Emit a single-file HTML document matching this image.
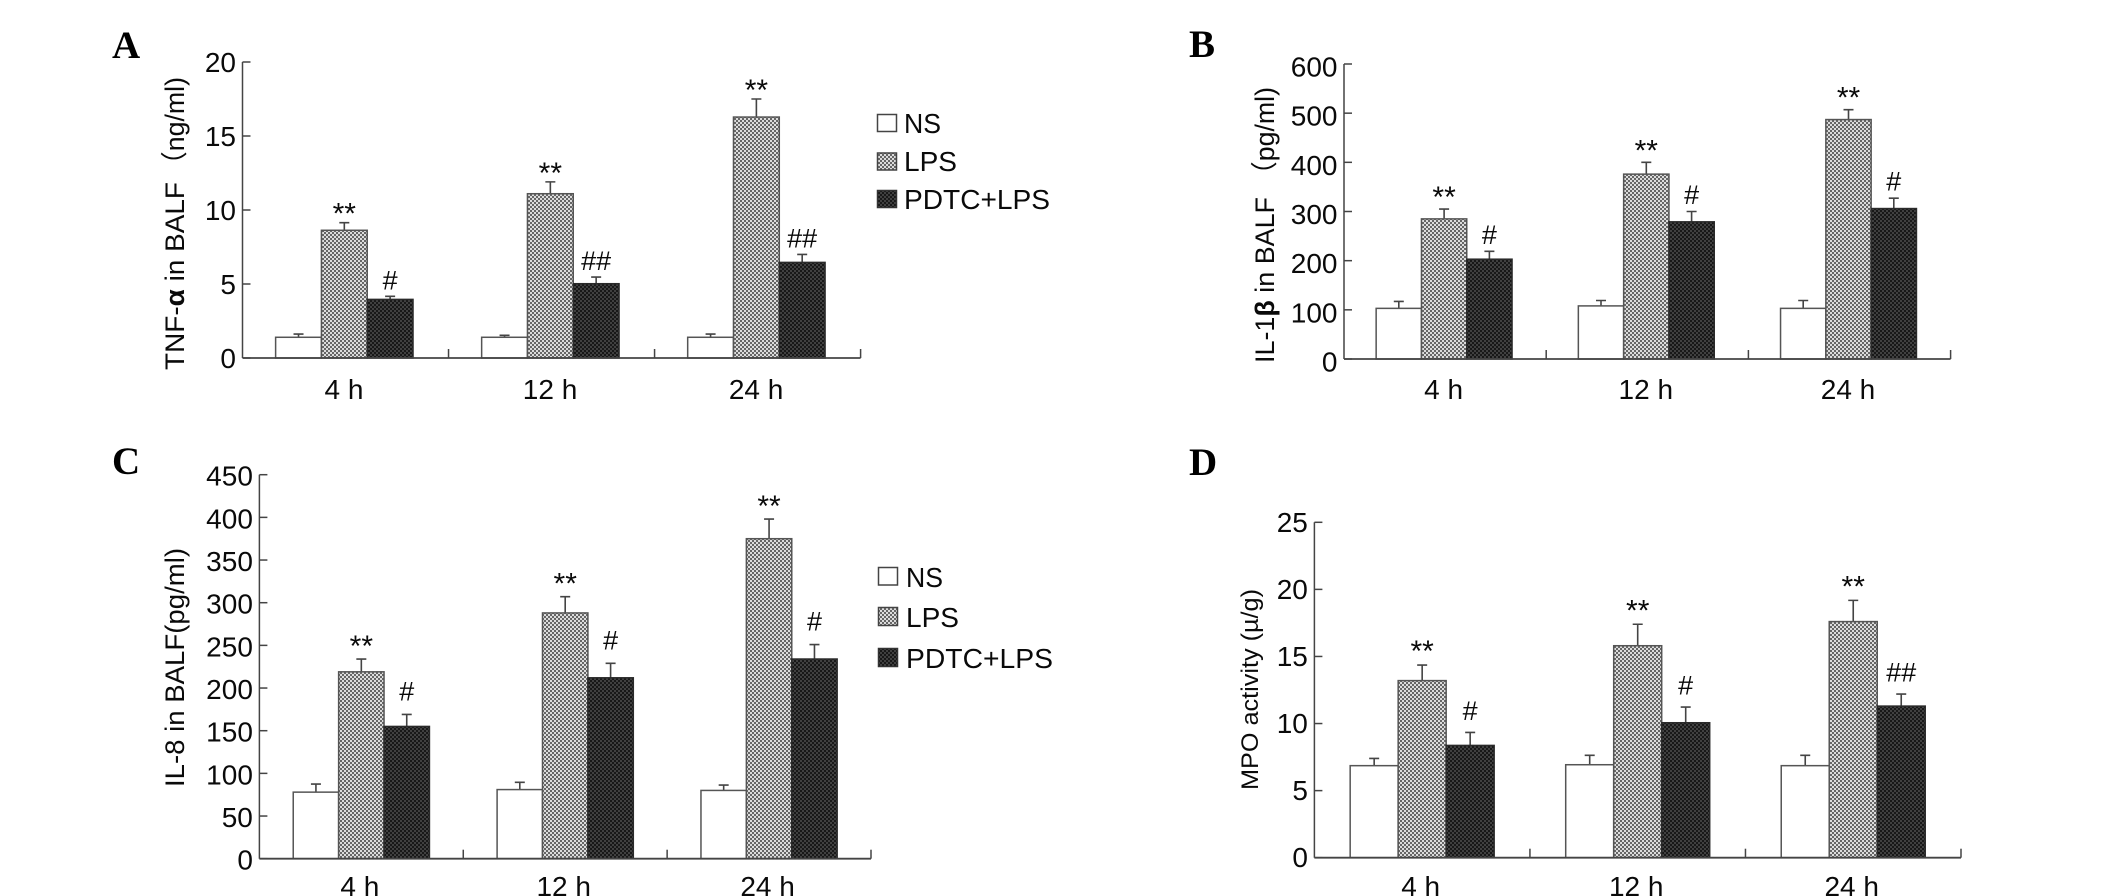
<!DOCTYPE html>
<html>
<head>
<meta charset="utf-8">
<title>Cytokine levels in BALF and MPO activity</title>
<style>
html,body{margin:0;padding:0;background:#fff;width:2126px;height:896px;overflow:hidden}
svg{display:block}
text{font-family:"Liberation Sans","Noto Sans CJK SC",sans-serif;fill:#0a0a0a}
.letter{font-family:"Liberation Serif",serif;font-weight:bold;font-size:39px;fill:#000}
.lbl{font-size:28px}
.title{font-size:27px}
</style>
</head>
<body>
<svg id="figure" xmlns="http://www.w3.org/2000/svg" width="2126" height="896" viewBox="0 0 2126 896">
<defs>
<pattern id="lpsFill" patternUnits="userSpaceOnUse" width="4" height="4">
<rect width="4" height="4" fill="#dcdcdc"/>
<rect x="0" y="0" width="2" height="2" fill="#666"/>
<rect x="2" y="2" width="2" height="2" fill="#666"/>
</pattern>
<pattern id="pdtcFill" patternUnits="userSpaceOnUse" width="4" height="4">
<rect width="4" height="4" fill="#181818"/>
<rect x="0" y="0" width="2" height="2" fill="#404040"/>
<rect x="2" y="2" width="2" height="2" fill="#404040"/>
</pattern>
</defs>

<text class="letter" x="112" y="58">A</text>
<text class="letter" x="1189" y="57">B</text>
<text class="letter" x="112" y="474">C</text>
<text class="letter" x="1189" y="475">D</text>

<g>
<text class="title" transform="translate(184,370) rotate(-90)" textLength="188" lengthAdjust="spacingAndGlyphs">TNF-<tspan font-weight="bold">α</tspan> in BALF</text>
<text class="title" transform="translate(184,178) rotate(-90)" textLength="101" lengthAdjust="spacingAndGlyphs">（ng/ml)</text>
</g>
<g>
<text class="title" transform="translate(1274,363) rotate(-90)" textLength="166" lengthAdjust="spacingAndGlyphs">IL-1<tspan font-weight="bold">β</tspan> in BALF</text>
<text class="title" transform="translate(1274,188) rotate(-90)" textLength="101" lengthAdjust="spacingAndGlyphs">（pg/ml)</text>
</g>
<text class="title" transform="translate(184,787) rotate(-90)" textLength="239" lengthAdjust="spacingAndGlyphs">IL-8 in BALF(pg/ml)</text>
<text class="title" style="font-size:24px" transform="translate(1258,790) rotate(-90)" textLength="201" lengthAdjust="spacingAndGlyphs">MPO activity (µ/g)</text>

<g>
<g><rect x="877.5" y="114.5" width="19" height="17" fill="#fff" stroke="#444" stroke-width="1.5"/><text class="lbl" x="904" y="133" textLength="37" lengthAdjust="spacingAndGlyphs">NS</text></g>
<g><rect x="877.5" y="153" width="19" height="17" fill="url(#lpsFill)" stroke="#444" stroke-width="1.5"/><text class="lbl" x="904" y="171" textLength="53" lengthAdjust="spacingAndGlyphs">LPS</text></g>
<g><rect x="877.5" y="190.5" width="19" height="17" fill="url(#pdtcFill)" stroke="#333" stroke-width="1.5"/><text class="lbl" x="904" y="209" textLength="146" lengthAdjust="spacingAndGlyphs">PDTC+LPS</text></g>
</g>
<g>
<g><rect x="878.5" y="567.5" width="19" height="17.5" fill="#fff" stroke="#444" stroke-width="1.5"/><text class="lbl" x="906" y="587" textLength="37" lengthAdjust="spacingAndGlyphs">NS</text></g>
<g><rect x="878.5" y="607.5" width="19" height="18" fill="url(#lpsFill)" stroke="#444" stroke-width="1.5"/><text class="lbl" x="906" y="627" textLength="53" lengthAdjust="spacingAndGlyphs">LPS</text></g>
<g><rect x="878.5" y="648.5" width="19" height="18" fill="url(#pdtcFill)" stroke="#333" stroke-width="1.5"/><text class="lbl" x="906" y="668" textLength="147" lengthAdjust="spacingAndGlyphs">PDTC+LPS</text></g>
</g>
</svg>

<script>
const categories = ['4 h', '12 h', '24 h'];

const tnfTicks = [0, 5, 10, 15, 20];
const tnfNS = [1.4, 1.4, 1.4];
const tnfNSErr = [1.62, 1.53, 1.62];
const tnfLPS = [8.63, 11.1, 16.28];
const tnfLPSErr = [9.14, 11.9, 17.5];
const tnfPDTC = [3.96, 5.02, 6.46];
const tnfPDTCErr = [4.17, 5.47, 7.0];
const tnfLPSMarks = ['**', '**', '**'];
const tnfPDTCMarks = ['#', '##', '##'];

const il1Ticks = [0, 100, 200, 300, 400, 500, 600];
const il1NS = [103, 108, 103];
const il1NSErr = [117, 119, 119];
const il1LPS = [285, 376, 487];
const il1LPSErr = [305, 400, 507];
const il1PDTC = [203, 279, 306];
const il1PDTCErr = [219, 300, 327];
const il1LPSMarks = ['**', '**', '**'];
const il1PDTCMarks = ['#', '#', '#'];

const il8Ticks = [0, 50, 100, 150, 200, 250, 300, 350, 400, 450];
const il8NS = [78, 81, 80];
const il8NSErr = [87.5, 89.5, 86.3];
const il8LPS = [219, 288, 375];
const il8LPSErr = [234, 307, 398];
const il8PDTC = [155, 212, 234];
const il8PDTCErr = [169, 229, 251];
const il8LPSMarks = ['**', '**', '**'];
const il8PDTCMarks = ['#', '#', '#'];

const mpoTicks = [0, 5, 10, 15, 20, 25];
const mpoNS = [6.86, 6.93, 6.86];
const mpoNSErr = [7.4, 7.63, 7.63];
const mpoLPS = [13.2, 15.8, 17.6];
const mpoLPSErr = [14.36, 17.4, 19.18];
const mpoPDTC = [8.37, 10.06, 11.3];
const mpoPDTCErr = [9.34, 11.23, 12.2];
const mpoLPSMarks = ['**', '**', '**'];
const mpoPDTCMarks = ['#', '#', '##'];

const seriesFills = ['#ffffff', 'url(#lpsFill)', 'url(#pdtcFill)'];
const seriesKeys = ['ns', 'lps', 'pdtc-lps'];

const SVGNS = 'http://www.w3.org/2000/svg';
const figure = document.getElementById('figure');

function mk(parent, tag, attrs, txt) {
  const el = document.createElementNS(SVGNS, tag);
  for (const k in attrs) el.setAttribute(k, attrs[k]);
  if (txt !== undefined) el.textContent = txt;
  parent.appendChild(el);
  return el;
}

function drawPanel(id, cfg, ticks, means, errs, lpsMarks, pdtcMarks) {
  const g = mk(figure, 'g', {});
  
  

  const yMax = ticks[ticks.length - 1];
  const yScale = v => cfg.y0 - (v / yMax) * (cfg.y0 - cfg.yTop);
  const catW = (cfg.xEnd - cfg.x0) / categories.length;
  const margin = (catW - 3 * cfg.barW) / 2 + cfg.barDx;
  const xBar = (c, s) => cfg.x0 + catW * c + margin + cfg.barW * s;
  const axisColor = '#444';

  means.forEach((vals, s) => {
    vals.forEach((v, c) => {
      const xb = xBar(c, s);
      const xm = xb + cfg.barW / 2;
      const err = mk(g, 'path', {
        d: 'M' + xm + ' ' + yScale(v) + 'V' + yScale(errs[s][c]) + 'M' + (xm - 5) + ' ' + yScale(errs[s][c]) + 'H' + (xm + 5),
        stroke: '#444', 'stroke-width': 1.6, fill: 'none'
      });
      
      
      const bar = mk(g, 'rect', {
        x: xb, y: yScale(v), width: cfg.barW, height: cfg.y0 - yScale(v),
        fill: seriesFills[s], stroke: s === 2 ? '#2a2a2a' : '#555', 'stroke-width': 1.5
      });
      
      
    });
  });

  categories.forEach((cat, c) => {
    const xmLps = xBar(c, 1) + cfg.barW / 2;
    const xmPdtc = xBar(c, 2) + cfg.barW / 2;
    const star = mk(g, 'text', {
      x: xmLps, y: yScale(errs[1][c]) - cfg.starGap + 14, 'text-anchor': 'middle', 'font-size': 30
    }, lpsMarks[c]);
    
    
    const hash = mk(g, 'text', {
      x: xmPdtc, y: yScale(errs[2][c]) - cfg.hashGap, 'text-anchor': 'middle', 'font-size': 27
    }, pdtcMarks[c]);
    
    
    const lab = mk(g, 'text', {
      x: cfg.x0 + catW * (c + 0.5) + cfg.labelDx, y: cfg.xLabelY, 'text-anchor': 'middle', 'font-size': 28
    }, cat);
    
    
    const tk = mk(g, 'line', {
      x1: cfg.x0 + catW * (c + 1), x2: cfg.x0 + catW * (c + 1),
      y1: cfg.y0, y2: cfg.y0 - 9, stroke: axisColor, 'stroke-width': 1.5
    });
    
    
  });

  const yAxis = mk(g, 'line', { x1: cfg.x0, x2: cfg.x0, y1: cfg.yTop, y2: cfg.y0, stroke: axisColor, 'stroke-width': 1.5 });
  
  
  const xAxis = mk(g, 'line', { x1: cfg.x0, x2: cfg.xEnd, y1: cfg.y0, y2: cfg.y0, stroke: axisColor, 'stroke-width': 1.8 });
  
  

  ticks.forEach(t => {
    const tk = mk(g, 'line', { x1: cfg.x0, x2: cfg.x0 + 8, y1: yScale(t), y2: yScale(t), stroke: axisColor, 'stroke-width': 1.5 });
    
    
    const lab = mk(g, 'text', { x: cfg.x0 - 6.5, y: yScale(t) + cfg.tickDy, 'text-anchor': 'end', 'font-size': 28 }, String(t));
    
    
  });
}

drawPanel('tnf-alpha',
  { x0: 242.5, xEnd: 860.6, y0: 358, yTop: 62, barW: 45.8, barDx: -1.2, starGap: 13, hashGap: 7, xLabelY: 399, labelDx: -1.5, tickDy: 10 },
  tnfTicks, [tnfNS, tnfLPS, tnfPDTC], [tnfNSErr, tnfLPSErr, tnfPDTCErr], tnfLPSMarks, tnfPDTCMarks);
drawPanel('il-1-beta',
  { x0: 1344, xEnd: 1950.6, y0: 359, yTop: 64, barW: 45.3, barDx: -1, starGap: 16, hashGap: 7.5, xLabelY: 399, labelDx: -1.5, tickDy: 12.5 },
  il1Ticks, [il1NS, il1LPS, il1PDTC], [il1NSErr, il1LPSErr, il1PDTCErr], il1LPSMarks, il1PDTCMarks);
drawPanel('il-8',
  { x0: 259.4, xEnd: 871, y0: 858.7, yTop: 474.7, barW: 45.4, barDx: 0, starGap: 17, hashGap: 14, xLabelY: 896, labelDx: -1.5, tickDy: 11 },
  il8Ticks, [il8NS, il8LPS, il8PDTC], [il8NSErr, il8LPSErr, il8PDTCErr], il8LPSMarks, il8PDTCMarks);
drawPanel('mpo',
  { x0: 1314.4, xEnd: 1961, y0: 857.7, yTop: 522.3, barW: 48, barDx: 0, starGap: 18, hashGap: 12.5, xLabelY: 896, labelDx: -1.5, tickDy: 9.5 },
  mpoTicks, [mpoNS, mpoLPS, mpoPDTC], [mpoNSErr, mpoLPSErr, mpoPDTCErr], mpoLPSMarks, mpoPDTCMarks);
</script>
</body>
</html>
